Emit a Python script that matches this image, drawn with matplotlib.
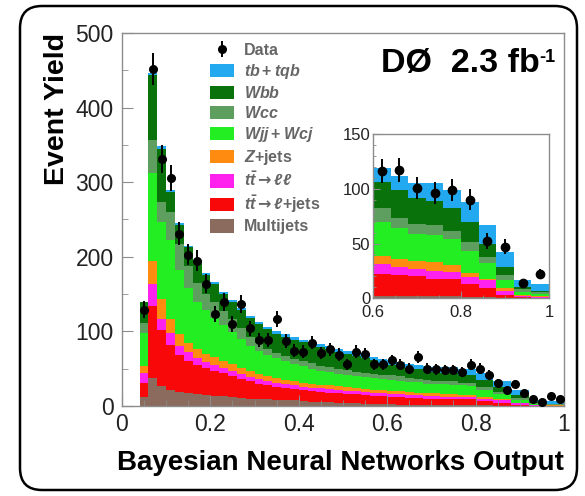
import numpy as np
import matplotlib.pyplot as plt
from matplotlib.patches import Patch, FancyBboxPatch
from matplotlib.ticker import MultipleLocator, FuncFormatter

plt.rcParams['font.family'] = ['Liberation Sans', 'DejaVu Sans']
plt.rcParams['mathtext.fontset'] = 'custom'
plt.rcParams['mathtext.rm'] = 'Liberation Sans:bold'
plt.rcParams['mathtext.it'] = 'Liberation Sans:italic:bold'
plt.rcParams['mathtext.bf'] = 'Liberation Sans:bold'
plt.rcParams['mathtext.sf'] = 'DejaVu Sans:bold'

# main histogram: 48 bins of width 0.02, from 0.04 to 1.0
multijets = [12.5, 37, 27, 21, 19, 17, 16, 15, 14, 13,
             12, 11, 10, 9.5, 9, 8.5, 8, 7.5, 7, 6,
             5.5, 5, 4.5, 4, 3.5, 3, 2.7, 2.4, 2, 1.8,
             1.6, 1.4, 1.2, 1.1, 1, 1, 1, 1, 0.8, 0.7,
             0.5, 0.5, 0.3, 0.3, 0.2, 0.15, 0.1, 0.1]
ttbar_lj = [18, 97, 75, 61, 49, 43, 39, 36, 33, 31,
            28, 25, 23, 20.5, 19, 17, 16, 15, 14, 14,
            13.5, 13, 12.5, 12, 12, 12, 11.3, 10.6, 10.5, 10.2,
            9.4, 9.1, 8.8, 8.9, 8, 8, 7.8, 7.7, 6.2, 5.8,
            4, 4, 1.2, 1.2, 0.4, 0.45, 0.2, 0.2]
ttbar_ll = [13.2, 29, 15, 16, 13, 12, 9, 8, 8, 7,
            7, 7, 6, 6, 5.5, 5.5, 5, 5, 5, 4.5,
            4.5, 4.5, 4.5, 4.5, 4.5, 4, 4, 4, 4, 4,
            4, 4, 3.5, 3.5, 3.5, 3.5, 3.2, 3.3, 2.5, 3,
            4, 4, 2, 2, 0.6, 0.6, 0.3, 0.3]
zjets = [9.8, 32, 26, 19, 15, 13, 12, 11, 10, 9,
         9, 8, 8, 7, 6.5, 6, 6, 5.5, 5, 5,
         5, 5, 5, 4.5, 4, 4, 4, 4, 3.5, 3.5,
         3.5, 3.5, 3.5, 3.5, 4, 4, 3, 3, 2, 2,
         0.5, 0.5, 1, 1, 0.3, 0.3, 0.3, 0.3]
wjj_wcj = [44.5, 117, 104, 106, 86, 73, 64, 58, 53, 48,
           43, 39, 34, 31, 28, 27, 25, 23, 22, 20.5,
           18.5, 17.5, 16.5, 16, 16, 15.5, 15, 14.5, 15, 14.5,
           14, 13.5, 13, 12.5, 12.5, 12, 12.5, 12, 10, 10,
           7, 7, 4, 4, 1.5, 1.5, 0.9, 0.9]
wcc = [12.6, 44, 26, 37, 35, 30, 25, 22, 21, 19,
       17, 14, 12, 10, 9, 7, 7, 7, 7, 7,
       7, 7, 7, 7, 6, 6, 6, 6, 6, 6,
       4.5, 4.5, 4.5, 4.5, 4.5, 5, 3, 3.5, 4.5, 4,
       3, 3, 2, 2, 1.2, 1.2, 1, 1]
wbb = [28.4, 88, 72, 27, 26, 25, 28, 25, 24, 23,
       23, 24, 25, 26, 26, 26, 26, 26, 25.5, 25,
       24.5, 24, 23, 22, 21, 19.5, 18, 16.5, 14, 13,
       13, 13, 12, 11.5, 11, 10.5, 10.5, 10.5, 9, 9.5,
       6, 6, 4, 4, 0.8, 0.8, 0.5, 0.5]
single_top = [1, 2, 3, 3, 2, 2, 3, 3, 3, 3,
              3, 3, 3, 3, 3, 3, 3, 3, 3.5, 3.5,
              4, 4, 4, 4, 4, 4.5, 5, 5, 6, 6,
              6, 6.5, 6.5, 7, 8, 8.5, 8.5, 8, 9, 9,
              9, 8, 7, 6.5, 3.5, 3.5, 3.2, 3.2]
data = [129, 452, 331, 305, 231, 203, 195, 164, 123, 139,
        110, 137, 104, 88, 89, 116, 87, 74, 73, 85,
        71, 76, 69, 56, 73, 70, 56, 56, 61, 55,
        50, 66, 50, 49, 48, 48, 46, 55, 50, 42,
        31, 22, 30, 17, 9, 5, 13, 9]

# inset: 10 bins of width 0.04, from 0.6 to 1.0
in_multijets = [2.5, 2.5, 2, 2, 2, 1.5, 1, 0.5, 0.3, 0.2]
in_ttbar_lj = [19.5, 18.5, 18, 16, 15.5, 12, 8, 2.5, 0.9, 0.4]
in_ttbar_ll = [9, 8, 7, 7, 6.5, 5.5, 8, 4, 1.3, 0.6]
in_zjets = [8, 7, 7, 8, 6, 4, 1, 2, 0.5, 0.6]
in_wjj_wcj = [31, 28, 25, 24.5, 24.5, 20, 14, 8, 3, 1.8]
in_wcc = [12, 9, 9, 9.5, 6.5, 8.5, 6, 4, 2.5, 1.9]
in_wbb = [24, 26, 23.5, 21.5, 21, 18.5, 12, 8, 1.5, 1]
in_single_top = [13, 12.5, 13.5, 16.5, 16.5, 18, 17, 13.5, 7, 6.5]
in_data = [116, 117, 101, 96, 99, 90, 52, 47, 14, 22]

colors = ['#8a6b5d', '#f80808', '#ff22ee', '#ff8c10',
          '#22ee22', '#5e9e5e', '#0a720a', '#22a9f0']
labels = ['Multijets', r'$t\bar{t}\mathsf{\rightarrow}\ell$+jets',
          r'$t\bar{t}\mathsf{\rightarrow}\ell\ell$',
          r'$Z$+jets', r'$Wjj+Wcj$', r'$Wcc$', r'$Wbb$', r'$tb+tqb$']

frame_col = '#8c8c8c'


def draw_stack(ax, comps, edges):
    bottom = np.zeros(len(edges) - 1)
    for vals, col in zip(comps, colors):
        top = bottom + np.array(vals, dtype=float)
        ax.stairs(top, edges, baseline=bottom, fill=True, color=col, lw=0)
        bottom = top


def style_axes(ax, size):
    for sp in ax.spines.values():
        sp.set_color(frame_col)
        sp.set_linewidth(1.0)
    ax.tick_params(which='both', direction='in', colors=frame_col,
                   labelcolor='#222222', labelsize=size, top=False, right=False)
    ax.xaxis.set_major_formatter(FuncFormatter(lambda v, p: '%g' % round(v, 2)))


fig = plt.figure(figsize=(5.85, 4.96), dpi=100)

ax = fig.add_axes([0.2085, 0.1815, 0.7556, 0.752])
edges = np.linspace(0.04, 1.0, 49)
centers = 0.5 * (edges[:-1] + edges[1:])
draw_stack(ax, [multijets, ttbar_lj, ttbar_ll, zjets, wjj_wcj, wcc, wbb, single_top], edges)
eb = ax.errorbar(centers, data, yerr=np.sqrt(data), fmt='o', color='k', ms=5.5,
                 elinewidth=1.4, capsize=0, zorder=5)
ax.set_xlim(0, 1)
ax.set_ylim(0, 500)
ax.xaxis.set_major_locator(MultipleLocator(0.2))
ax.xaxis.set_minor_locator(MultipleLocator(0.05))
ax.yaxis.set_major_locator(MultipleLocator(100))
ax.yaxis.set_minor_locator(MultipleLocator(50))
style_axes(ax, 16.5)
ax.tick_params(which='major', length=8)
ax.tick_params(which='minor', length=4)
ax.tick_params(axis='x', pad=5)
ax.tick_params(axis='y', pad=6)
ax.set_ylabel('Event Yield', fontsize=20.5, fontweight='bold', loc='top', labelpad=4)
ax.set_xlabel('Bayesian Neural Networks Output', fontsize=20, fontweight='bold',
              loc='right', labelpad=10)

handles = [eb] + [Patch(facecolor=c, edgecolor='none') for c in colors[::-1]]
leg = ax.legend(handles, ['Data'] + labels[::-1], loc='upper left',
                bbox_to_anchor=(0.178, 1.0), frameon=False, fontsize=11.5,
                handlelength=1.5, handleheight=0.95, labelspacing=0.25,
                handletextpad=0.6, borderaxespad=0.2)
for t in leg.get_texts():
    t.set_color('#666666')
    t.set_fontweight('bold')

dzero = ax.text(0.945, 0.895, 'DØ  2.3 fb', transform=ax.transAxes,
                ha='right', va='baseline', fontsize=24.5, fontweight='bold')
ax.annotate('-1', xy=(1.0, 0.98), xycoords=dzero, ha='left', va='top',
            fontsize=13, fontweight='bold')

# inset
axin = fig.add_axes([0.6376, 0.3986, 0.3009, 0.3313])
in_edges = np.linspace(0.6, 1.0, 11)
in_centers = 0.5 * (in_edges[:-1] + in_edges[1:])
draw_stack(axin, [in_multijets, in_ttbar_lj, in_ttbar_ll, in_zjets, in_wjj_wcj,
                  in_wcc, in_wbb, in_single_top], in_edges)
axin.errorbar(in_centers, in_data, yerr=np.sqrt(in_data), fmt='o', color='k', ms=6,
              elinewidth=1.4, capsize=0, zorder=5)
axin.set_xlim(0.6, 1.0)
axin.set_ylim(0, 150)
axin.xaxis.set_major_locator(MultipleLocator(0.2))
axin.xaxis.set_minor_locator(MultipleLocator(0.05))
axin.yaxis.set_major_locator(MultipleLocator(50))
axin.yaxis.set_minor_locator(MultipleLocator(10))
style_axes(axin, 12)
axin.tick_params(which='major', length=5)
axin.tick_params(which='minor', length=2.5)
axin.tick_params(axis='y', pad=2)
axin.tick_params(axis='x', pad=5)

# rounded outer frame
fig.patches.append(FancyBboxPatch((0.20, 0.06), 5.57, 4.84,
                                  boxstyle='round,pad=0,rounding_size=0.22',
                                  transform=fig.dpi_scale_trans, fill=False,
                                  edgecolor='black', linewidth=1.8))

fig.savefig('out.png', dpi=100)
